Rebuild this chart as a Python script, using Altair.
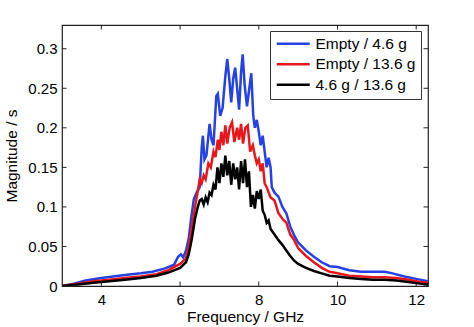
import altair as alt
import pandas as pd

series = ["Empty / 4.6 g", "Empty / 13.6 g", "4.6 g / 13.6 g"]
colors = ["#2441e6", "#e8161b", "#000000"]

blue_f = [3.0, 3.3, 3.6, 4.0, 4.3, 4.6, 5.0, 5.3, 5.6, 5.85, 5.95, 6.02, 6.08, 6.15, 6.22, 6.28, 6.35,
          6.42, 6.5, 6.55, 6.58, 6.62, 6.67, 6.75, 6.8, 6.85, 6.92, 6.96, 7.02, 7.08, 7.15, 7.2, 7.25,
          7.3, 7.35, 7.4, 7.45, 7.5, 7.55, 7.59, 7.64, 7.7, 7.76, 7.81, 7.86, 7.9, 7.95, 8.0, 8.05,
          8.1, 8.15, 8.2, 8.25, 8.3, 8.33, 8.4, 8.5, 8.6, 8.7, 8.8, 8.9, 9.0, 9.2, 9.4, 9.6, 9.8,
          10.0, 10.3, 10.6, 10.9, 11.2, 11.4, 11.7, 12.0, 12.3]
blue_m = [0.000, 0.003, 0.007, 0.010, 0.012, 0.014, 0.016, 0.018, 0.022, 0.027, 0.037, 0.040, 0.036,
          0.045, 0.060, 0.085, 0.110, 0.118, 0.125, 0.175, 0.190, 0.160, 0.165, 0.205, 0.185, 0.178,
          0.240, 0.243, 0.215, 0.225, 0.265, 0.287, 0.262, 0.232, 0.262, 0.276, 0.250, 0.223, 0.270,
          0.293, 0.255, 0.227, 0.250, 0.269, 0.215, 0.200, 0.210, 0.195, 0.178, 0.190, 0.170, 0.150,
          0.162, 0.150, 0.125, 0.118, 0.113, 0.100, 0.092, 0.075, 0.064, 0.055, 0.045, 0.037, 0.030,
          0.025, 0.024, 0.020, 0.018, 0.018, 0.018, 0.016, 0.012, 0.009, 0.006]

red_f = [3.0, 3.4, 3.8, 4.2, 4.6, 5.0, 5.4, 5.7, 6.0, 6.15, 6.22, 6.3, 6.38, 6.45, 6.5, 6.55, 6.6,
         6.65, 6.72, 6.78, 6.85, 6.9, 6.96, 7.0, 7.05, 7.1, 7.15, 7.2, 7.26, 7.32, 7.38, 7.45, 7.5,
         7.55, 7.6, 7.66, 7.72, 7.78, 7.85, 7.9, 7.95, 8.0, 8.05, 8.1, 8.15, 8.2, 8.3, 8.4, 8.5, 8.6,
         8.7, 8.8, 8.9, 9.0, 9.2, 9.4, 9.6, 9.8, 10.0, 10.3, 10.6, 10.9, 11.2, 11.5, 11.8, 12.1, 12.3]
red_m = [0.000, 0.003, 0.006, 0.008, 0.010, 0.012, 0.015, 0.020, 0.028, 0.035, 0.050, 0.075, 0.100,
         0.120, 0.135, 0.130, 0.140, 0.135, 0.155, 0.150, 0.170, 0.163, 0.185, 0.172, 0.195, 0.178,
         0.203, 0.180, 0.200, 0.207, 0.182, 0.200, 0.185, 0.205, 0.180, 0.200, 0.203, 0.170, 0.178,
         0.165, 0.155, 0.160, 0.145, 0.155, 0.130, 0.125, 0.112, 0.108, 0.092, 0.085, 0.080, 0.065,
         0.058, 0.048, 0.038, 0.030, 0.023, 0.018, 0.016, 0.013, 0.012, 0.011, 0.011, 0.010, 0.008,
         0.005, 0.004]

black_f = [3.0, 3.4, 3.8, 4.2, 4.6, 5.0, 5.4, 5.7, 6.0, 6.15, 6.22, 6.3, 6.38, 6.45, 6.5, 6.55, 6.6,
           6.65, 6.7, 6.75, 6.8, 6.85, 6.9, 6.95, 7.0, 7.05, 7.1, 7.15, 7.2, 7.25, 7.3, 7.35, 7.4,
           7.45, 7.5, 7.55, 7.6, 7.65, 7.7, 7.75, 7.8, 7.85, 7.9, 7.95, 8.0, 8.05, 8.1, 8.15, 8.2,
           8.25, 8.3, 8.4, 8.5, 8.6, 8.7, 8.8, 8.9, 9.0, 9.2, 9.4, 9.6, 9.8, 10.0, 10.3, 10.6, 10.9,
           11.2, 11.5, 11.8, 12.1, 12.3]
black_m = [0.000, 0.002, 0.004, 0.006, 0.008, 0.010, 0.013, 0.017, 0.023, 0.030, 0.040, 0.060, 0.085,
           0.100, 0.108, 0.110, 0.103, 0.112, 0.106, 0.118, 0.115, 0.128, 0.122, 0.150, 0.130, 0.155,
           0.138, 0.165, 0.140, 0.158, 0.128, 0.155, 0.135, 0.150, 0.122, 0.158, 0.130, 0.160, 0.125,
           0.145, 0.100, 0.115, 0.098, 0.120, 0.110, 0.122, 0.095, 0.090, 0.080, 0.083, 0.072, 0.065,
           0.058, 0.052, 0.045, 0.038, 0.032, 0.028, 0.023, 0.019, 0.016, 0.013, 0.012, 0.010, 0.009,
           0.008, 0.008, 0.007, 0.005, 0.003, 0.002]

x_ticks = [4, 6, 8, 10, 12]
y_ticks = [0, 0.05, 0.1, 0.15, 0.2, 0.25, 0.3]

rows = []
for name, fs, ms in zip(series, [blue_f, red_f, black_f], [blue_m, red_m, black_m]):
    for i, (f, m) in enumerate(zip(fs, ms)):
        rows.append({"series": name, "f": f, "m": m, "order": i})
df = pd.DataFrame(rows)
xt = pd.DataFrame({"f": x_ticks})
yt = pd.DataFrame({"m": y_ticks})

W, H = 366, 261
FONT = "Liberation Sans"
xs = alt.Scale(domain=[3, 12.3], nice=False, zero=False)
ys = alt.Scale(domain=[0, 0.33], nice=False)
xaxis = alt.Axis(values=x_ticks, title="Frequency / GHz", domain=False, ticks=False, grid=False,
                 labelFontSize=15, titleFontSize=15.5, labelPadding=6, titlePadding=2,
                 labelColor="black", titleColor="black", titleFontWeight="normal",
                 labelFont=FONT, titleFont=FONT)
yaxis = alt.Axis(values=y_ticks, title="Magnitude / s", domain=False, ticks=False, grid=False,
                 format="~g", labelFontSize=15, titleFontSize=15.5, labelPadding=5, titlePadding=8,
                 labelColor="black", titleColor="black", titleFontWeight="normal",
                 labelFont=FONT, titleFont=FONT)

lines = alt.Chart(df).mark_line(strokeWidth=2.5, clip=True).encode(
    x=alt.X("f:Q", scale=xs, axis=xaxis),
    y=alt.Y("m:Q", scale=ys, axis=yaxis),
    color=alt.Color("series:N", scale=alt.Scale(domain=series, range=colors),
                    legend=alt.Legend(orient="none", legendX=208, legendY=6, title=None,
                                      strokeColor="#333333", fillColor="white", padding=5,
                                      symbolType="M-1,0H4.5", symbolSize=144,
                                      symbolStrokeWidth=2.5, labelFontSize=15.5, labelFont=FONT,
                                      labelColor="black", labelOffset=25, rowPadding=3.5,
                                      labelLimit=300)),
    order="order:Q",
)

TL = 4.5
xb = alt.Chart(xt).mark_rule(color="#222222", strokeWidth=1).encode(
    x=alt.X("f:Q", scale=xs, axis=xaxis), y=alt.value(H), y2=alt.value(H - TL))
xtp = alt.Chart(xt).mark_rule(color="#222222", strokeWidth=1).encode(
    x=alt.X("f:Q", scale=xs, axis=xaxis), y=alt.value(0), y2=alt.value(TL))
yl = alt.Chart(yt).mark_rule(color="#222222", strokeWidth=1).encode(
    y=alt.Y("m:Q", scale=ys, axis=yaxis), x=alt.value(0), x2=alt.value(TL))
yr = alt.Chart(yt).mark_rule(color="#222222", strokeWidth=1).encode(
    y=alt.Y("m:Q", scale=ys, axis=yaxis), x=alt.value(W), x2=alt.value(W - TL))

chart = alt.layer(xb, xtp, yl, yr, lines).properties(
    width=W, height=H,
    autosize=alt.AutoSizeParams(type="none"),
    padding={"left": 62, "top": 25, "right": 46, "bottom": 41},
    background="white",
).configure_view(stroke="#222222", strokeWidth=1.2)

chart.save("out.html", embed_options={"renderer": "svg", "actions": False})
